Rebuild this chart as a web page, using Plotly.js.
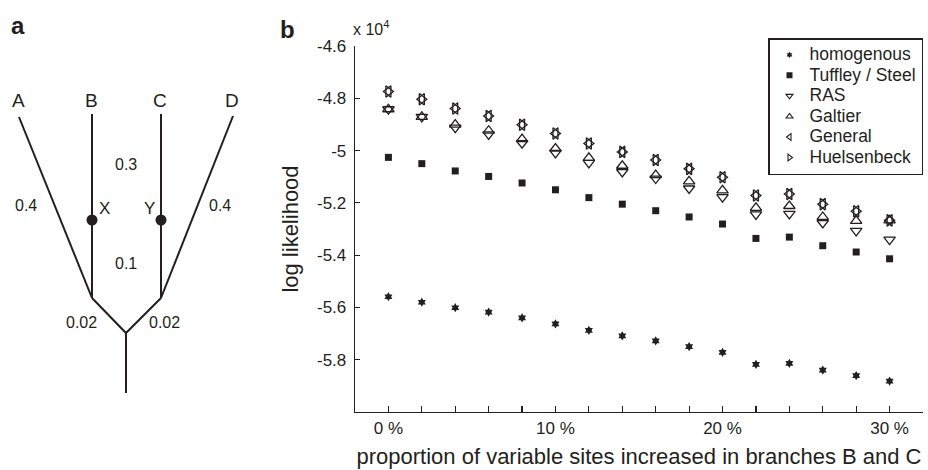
<!DOCTYPE html>
<html><head><meta charset="utf-8">
<script src="https://cdn.plot.ly/plotly-3.0.1.min.js"></script>
<style>html,body{margin:0;padding:0;background:#fff}#chart{width:928px;height:470px}</style>
</head><body><div id="chart"></div>
<script>
// ---- panel b data (log likelihood, in units of 10^4) ----
const proportion = [0, 2, 4, 6, 8, 10, 12, 14, 16, 18, 20, 22, 24, 26, 28, 30];
const xTickVals = [0, 10, 20, 30];
const xTickText = ['0 %', '10 %', '20 %', '30 %'];
const xMinorTickVals = [0, 2, 4, 6, 8, 10, 12, 14, 16, 18, 20, 22, 24, 26, 28, 30];
const yTickVals = [-5.8, -5.6, -5.4, -5.2, -5.0, -4.8, -4.6];
const yTickText = ['-5.8', '-5.6', '-5.4', '-5.2', '-5', '-4.8', '-4.6'];

const homogenous  = [-5.559, -5.580, -5.601, -5.618, -5.640, -5.663, -5.688, -5.709, -5.728, -5.750, -5.772, -5.818, -5.814, -5.840, -5.861, -5.882];
const tuffleySteel = [-5.026, -5.050, -5.078, -5.099, -5.124, -5.150, -5.180, -5.205, -5.230, -5.254, -5.281, -5.336, -5.331, -5.364, -5.388, -5.414];
const ras         = [-4.842, -4.871, -4.912, -4.938, -4.972, -5.009, -5.047, -5.082, -5.107, -5.145, -5.178, -5.244, -5.242, -5.277, -5.307, -5.341];
const galtier     = [-4.842, -4.871, -4.901, -4.924, -4.956, -4.992, -5.028, -5.058, -5.094, -5.118, -5.152, -5.219, -5.212, -5.254, -5.269, -5.267];
const general     = [-4.774, -4.804, -4.839, -4.868, -4.901, -4.935, -4.973, -5.005, -5.036, -5.070, -5.102, -5.172, -5.166, -5.205, -5.232, -5.267];
const huelsenbeck = [-4.774, -4.804, -4.839, -4.868, -4.901, -4.935, -4.973, -5.005, -5.036, -5.070, -5.102, -5.172, -5.166, -5.205, -5.232, -5.267];

const seriesNames = ['homogenous', 'Tuffley / Steel', 'RAS', 'Galtier', 'General', 'Huelsenbeck'];

// ---- panel a: tree diagram (diagram units) ----
const taxa = ['A', 'B', 'C', 'D'];
const taxonX = [18, 91, 160, 232];
const taxonY = [100, 100, 100, 100];
const edgeX = [19, 92, null, 92, 92, null, 161, 161, null, 233, 161, null, 92, 126, 161, null, 126, 126];
const edgeY = [117, 298, null, 114, 298, null, 114, 298, null, 116, 298, null, 298, 333, 298, null, 333, 393];
const innerNodes = ['X', 'Y'];
const innerNodeX = [92, 161];
const innerNodeY = [220, 220];
const innerLabelX = [104, 149];
const innerLabelY = [208, 208];
const branchLabels = ['0.4', '0.3', '0.1', '0.4', '0.02', '0.02'];
const branchLabelX = [26, 126, 126, 220, 81, 164];
const branchLabelY = [205, 164, 263, 205, 322, 322];

const ink = '#231f20';
const FONT = 'Liberation Sans, Arial, sans-serif';

const dataSeries = [homogenous, tuffleySteel, ras, galtier, general, huelsenbeck];
const symbols = ['hexagram', 'square', 'triangle-down-open', 'triangle-up-open', 'triangle-left-open', 'triangle-right-open'];
const sizes = [7, 7, 10, 10, 10, 10];
const legendSizes = [5, 6, 6, 6, 6, 6];

const traces = [];
// tree
traces.push({x: edgeX, y: edgeY, xaxis: 'x2', yaxis: 'y2', mode: 'lines',
  line: {color: ink, width: 2}, showlegend: false, hoverinfo: 'skip'});
traces.push({x: innerNodeX, y: innerNodeY, xaxis: 'x2', yaxis: 'y2', mode: 'markers',
  marker: {color: ink, size: 11}, showlegend: false, hoverinfo: 'skip'});

// scatter data
for (let i = 0; i < dataSeries.length; i++) {
  traces.push({
    x: proportion, y: dataSeries[i], name: seriesNames[i], type: 'scatter', mode: 'markers',
    xaxis: 'x', yaxis: 'y', showlegend: false,
    marker: {symbol: symbols[i], size: sizes[i], color: ink, line: {color: ink, width: symbols[i].endsWith('open') ? 1.3 : 0}}
  });
}
// legend entries (smaller symbols, larger text inside a compact row spacing)
for (let i = 0; i < dataSeries.length; i++) {
  traces.push({
    x: [null], y: [null], name: '<span style="font-size:17.5px">' + seriesNames[i] + '</span>', type: 'scatter', mode: 'markers',
    xaxis: 'x', yaxis: 'y', showlegend: true,
    marker: {symbol: symbols[i], size: legendSizes[i], color: ink, line: {color: ink, width: symbols[i].endsWith('open') ? 1.1 : 0}}
  });
}

const annotations = [];
for (let i = 0; i < taxa.length; i++) {
  annotations.push({x: taxonX[i], y: taxonY[i], xref: 'x2', yref: 'y2', text: taxa[i], showarrow: false,
    font: {family: FONT, size: 19, color: ink}, xanchor: 'center', yanchor: 'middle'});
}
for (let i = 0; i < innerNodes.length; i++) {
  annotations.push({x: innerLabelX[i], y: innerLabelY[i], xref: 'x2', yref: 'y2', text: innerNodes[i], showarrow: false,
    font: {family: FONT, size: 17, color: ink}, xanchor: 'center', yanchor: 'middle'});
}
for (let i = 0; i < branchLabels.length; i++) {
  annotations.push({x: branchLabelX[i], y: branchLabelY[i], xref: 'x2', yref: 'y2', text: branchLabels[i], showarrow: false,
    font: {family: FONT, size: 16, color: ink}, xanchor: 'center', yanchor: 'middle'});
}
annotations.push({x: 18 / 928, y: 1 - 25 / 470, xref: 'paper', yref: 'paper', text: '<b>a</b>', showarrow: false,
  font: {family: FONT, size: 24, color: ink}, xanchor: 'center', yanchor: 'middle'});
annotations.push({x: 287 / 928, y: 1 - 29 / 470, xref: 'paper', yref: 'paper', text: '<b>b</b>', showarrow: false,
  font: {family: FONT, size: 24, color: ink}, xanchor: 'center', yanchor: 'middle'});
annotations.push({x: 351 / 928, y: 1 - 28 / 470, xref: 'paper', yref: 'paper', text: 'x 10<sup>4</sup>', showarrow: false,
  font: {family: FONT, size: 16, color: ink}, xanchor: 'left', yanchor: 'middle'});

const layout = {
  width: 928, height: 470,
  margin: {l: 0, r: 0, t: 0, b: 0},
  paper_bgcolor: '#fff', plot_bgcolor: 'rgba(0,0,0,0)',
  font: {family: FONT, color: ink, size: 16},
  showlegend: true,
  legend: {x: 923 / 928, xanchor: 'right', y: 1 - 38 / 470, yanchor: 'top',
    bordercolor: ink, borderwidth: 1.5, bgcolor: '#fff', font: {family: FONT, size: 13.5, color: ink},
    tracegroupgap: 0, itemwidth: 30},
  xaxis: {
    domain: [355 / 928, 923 / 928], range: [-2, 32],
    tickmode: 'array', tickvals: xTickVals, ticktext: xTickText,
    ticks: 'inside', ticklen: 6, tickwidth: 1.2, tickcolor: ink,
    minor: {tickmode: 'array', tickvals: xMinorTickVals, ticks: 'inside', ticklen: 6, tickwidth: 1.2, tickcolor: ink, showgrid: false},
    showline: true, linecolor: ink, linewidth: 1.3, showgrid: false, zeroline: false,
    tickfont: {family: FONT, size: 17, color: ink}, ticklabelstandoff: 0,
    title: {text: 'proportion of variable sites increased in branches B and C', font: {family: FONT, size: 22, color: ink}, standoff: 12}
  },
  yaxis: {
    domain: [1 - 412 / 470, 1 - 46 / 470], range: [-6.0, -4.6],
    tickmode: 'array', tickvals: yTickVals, ticktext: yTickText,
    ticks: 'inside', ticklen: 5, tickwidth: 1.2, tickcolor: ink,
    showline: true, linecolor: ink, linewidth: 1.3, showgrid: false, zeroline: false,
    tickfont: {family: FONT, size: 17, color: ink}, ticklabelstandoff: 4,
    title: {text: 'log likelihood', font: {family: FONT, size: 22, color: ink}, standoff: 12}
  },
  xaxis2: {domain: [0, 260 / 928], range: [0, 260], visible: false, fixedrange: true, anchor: 'y2'},
  yaxis2: {domain: [0, 1], range: [470, 0], visible: false, fixedrange: true, anchor: 'x2'},
  annotations: annotations
};

Plotly.newPlot('chart', traces, layout, {displayModeBar: false, staticPlot: true});
</script>
</body></html>
